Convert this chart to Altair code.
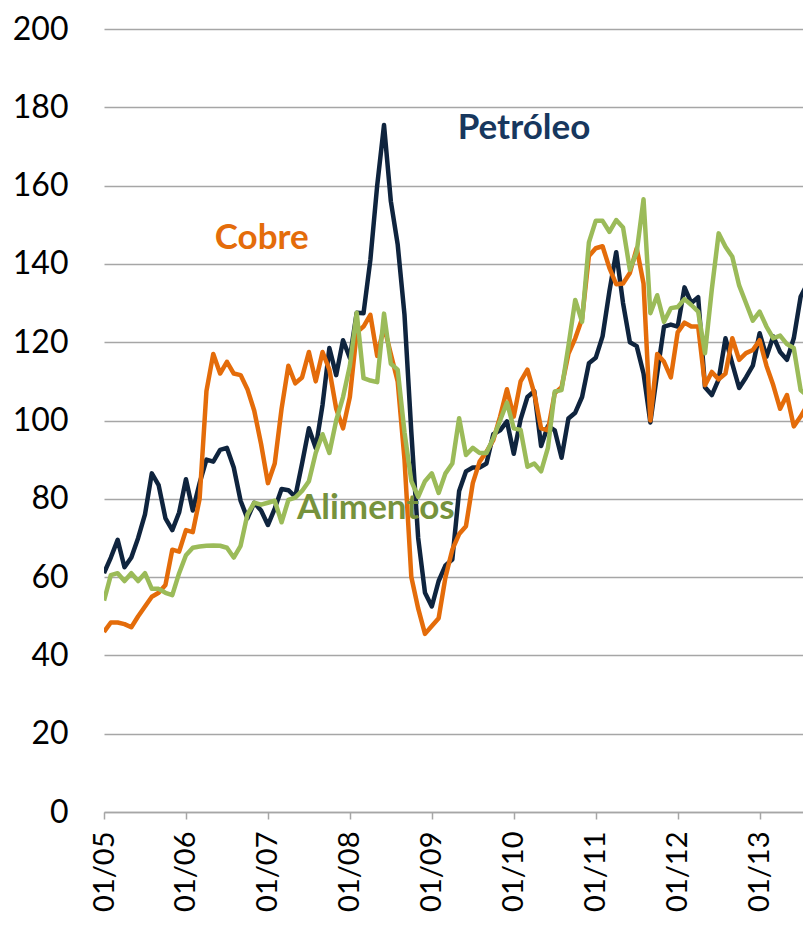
import json
import altair as alt
import pandas as pd

# ---- data (monthly index values, Jan-2005 onwards) ----
petroleo = [61, 65, 69.5, 62.5, 65, 70, 76, 86.5, 83.5, 75, 72, 76.5,
            85, 77, 84, 90, 89.5, 92.5, 93, 88, 79.5, 75, 79, 77,
            73.3, 77.5, 82.5, 82.2, 80.5, 89, 98, 93, 104, 118.5, 111.6, 120.5,
            116, 127.5, 127.4, 141, 160, 175.5, 156, 145, 127, 97, 70, 56,
            52.5, 59, 63, 64.5, 82, 87, 88, 88, 89, 96.5, 97.5, 99.8,
            91.5, 100.3, 106, 107.5, 93.5, 98.6, 97.5, 90.5, 100.5, 102, 106, 114.6,
            116, 121.5, 133, 143, 130, 120, 119, 112, 99.5, 112, 124, 124.5,
            124, 134, 130, 131.5, 108.5, 106.5, 110.5, 121, 114.5, 108.3, 111, 114,
            122.3, 116.3, 121.5, 117.5, 115.5, 121, 131.6, 135, 128]

cobre = [46, 48.4, 48.4, 48, 47.2, 50, 52.5, 55, 56, 58, 67, 66.5,
         72, 71.5, 80, 107.5, 117, 112, 115, 112, 111.6, 108, 102.5, 94,
         84, 89, 103, 114, 109.5, 111, 117.5, 110, 117.5, 113, 103, 98,
         106, 122.5, 124, 127, 116.5, 124, 117, 110, 90, 60, 52, 45.5,
         47.5, 49.5, 60, 67, 71, 73, 84, 89.5, 92, 95, 101, 108,
         101, 110, 113, 107, 98, 97.5, 107, 108.5, 117, 121, 126, 142,
         144, 144.5, 139, 134.8, 135, 137.7, 144, 135, 100, 117, 115, 111,
         122.5, 125, 124, 124, 109, 112.4, 110.5, 112, 121, 115.5, 117.2, 118,
         120.5, 114, 109, 103, 106.5, 98.5, 101, 104, 107]

alimentos = [54, 60.5, 61, 59, 61, 59, 61, 57, 57, 56, 55.4, 61,
             65.6, 67.5, 67.8, 68, 68.1, 68, 67.5, 65, 68, 76, 79, 78.5,
             79, 79.5, 74, 79.7, 80.3, 82, 84.5, 91.7, 96.5, 91.7, 100, 106,
             114, 127.5, 110.8, 110.2, 109.8, 127.3, 114.5, 113, 97, 84.5, 80.5, 84.5,
             86.5, 81.5, 86.5, 89, 100.6, 91.2, 93, 91.7, 91.7, 95.5, 100, 104.6,
             98, 97.6, 88.2, 89, 87, 93, 107.4, 107.8, 119, 130.8, 125.2, 145.5,
             151, 151, 148.2, 151.2, 149.3, 138.5, 143, 156.5, 127.4, 132, 125.2, 128.7,
             129, 131, 129.5, 127.8, 117.2, 133.5, 147.8, 144.4, 141.8, 134.5, 130, 125.5,
             127.8, 124, 121, 121.7, 119.5, 118.5, 107.8, 106.3, 104]

series_names = ["Petróleo", "Cobre", "Alimentos"]
series_colors = ["#0F243E", "#E46C0A", "#9BBB59"]

tick_labels = ["01/05", "01/06", "01/07", "01/08", "01/09",
               "01/10", "01/11", "01/12", "01/13"]
tick_months = [0, 12, 24, 36, 48, 60, 72, 84, 96]
y_ticks = [0, 20, 40, 60, 80, 100, 120, 140, 160, 180, 200]

label_text = ["Petróleo", "Cobre", "Alimentos"]
label_month = [61.5, 23.1, 39.8]
label_value = [174.7, 146.6, 77.6]
label_colors = ["#17375E", "#E46C0A", "#76923C"]

# ---- tables ----
rows = []
for name, vals in zip(series_names, [petroleo, cobre, alimentos]):
    for i, v in enumerate(vals):
        rows.append({"mes": i, "valor": v, "serie": name})
df = pd.DataFrame(rows)

labels_df = pd.DataFrame({"mes": label_month, "valor": label_value,
                          "texto": label_text, "color": label_colors})

label_expr = json.dumps(tick_labels) + "[round(datum.value / 12)]"

x_enc = alt.X("mes:Q",
              scale=alt.Scale(domain=[0, 102.35], nice=False, zero=False),
              axis=alt.Axis(values=tick_months, labelExpr=label_expr, title=None,
                            grid=False, domain=True, domainColor="#A6A6A6",
                            domainWidth=1.5, ticks=True, tickColor="#A6A6A6",
                            tickWidth=1.5, tickSize=7, labelAngle=-90,
                            labelPadding=12, labelFont="Lato", labelFontSize=29,
                            labelColor="#000000", labelOverlap=False))
y_enc = alt.Y("valor:Q",
              scale=alt.Scale(domain=[0, 200], nice=False),
              axis=alt.Axis(values=y_ticks, title=None, grid=True,
                            gridColor="#A6A6A6", gridWidth=1.5, domain=False,
                            ticks=False, labelPadding=36, labelFont="Lato",
                            labelFontSize=32, labelColor="#000000"))
color_enc = alt.Color("serie:N",
                      scale=alt.Scale(domain=series_names, range=series_colors),
                      legend=None)

layers = []
for name in series_names:
    layers.append(
        alt.Chart(df)
        .transform_filter(alt.datum.serie == name)
        .mark_line(clip=True, strokeWidth=4.5, strokeJoin="round")
        .encode(x=x_enc, y=y_enc, color=color_enc)
    )

text_layer = (
    alt.Chart(labels_df)
    .mark_text(font="Lato", fontSize=35, fontWeight="bold")
    .encode(x=alt.X("mes:Q"), y=alt.Y("valor:Q"), text="texto:N",
            color=alt.Color("color:N", scale=None))
)

chart = (
    alt.layer(*layers, text_layer)
    .properties(width=699, height=783,
                autosize=alt.AutoSizeParams(type="none"),
                padding={"left": 96, "top": 21, "right": 0, "bottom": 101})
    .configure_view(stroke=None)
)

chart.save("out.html", embed_options={"renderer": "svg", "actions": False})
